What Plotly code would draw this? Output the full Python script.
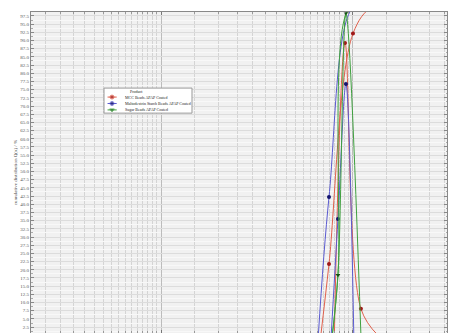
import numpy as np
import plotly.graph_objects as go

# Particle size (µm) against percentage, two curves per product
mcc_cum_size = [68, 75, 100, 125, 160]
mcc_cum_pct = [0.0, 21.8, 92.1, 100.0, 100.0]
mcc_dens_size = [80, 90.9, 110, 135]
mcc_dens_pct = [0.0, 89.2, 8.1, 0.0]

malto_cum_size = [66, 75, 100, 125]
malto_cum_pct = [0.0, 42.2, 100.0, 100.0]
malto_dens_size = [77, 83.5, 91.9, 101]
malto_dens_pct = [0.0, 35.5, 76.7, 0.0]

sugar_cum_size = [78, 83.5, 95, 115]
sugar_cum_pct = [0.0, 18.4, 99.5, 100.0]
sugar_dens_size = [78, 83.5, 91.9, 110]
sugar_dens_pct = [0.0, 18.4, 98.3, 0.0]

legend_title = "Product"
products = ["MCC Beads APAP Coated",
            "Maltodextrin Starch Beads APAP Coated",
            "Sugar Beads APAP Coated"]
line_colors = ["#e0604c", "#5a5ad0", "#3fa03f"]
marker_colors = ["#a01818", "#14146e", "#145214"]
marker_symbols = ["circle", "circle", "triangle-down"]

series = [
    (mcc_cum_size, mcc_cum_pct, mcc_dens_size, mcc_dens_pct),
    (malto_cum_size, malto_cum_pct, malto_dens_size, malto_dens_pct),
    (sugar_cum_size, sugar_cum_pct, sugar_dens_size, sugar_dens_pct),
]

# y tick labels every 2.5 %
y_ticks = [2.5 * k for k in range(1, 40)]
y_labels = [f"{v:.1f}" for v in y_ticks]

# log grid: decade lines plus half-step subdivisions
x_major = [10, 100]
x_minor = [float(m * d) for d in (1, 10, 100) for m in np.arange(1.5, 10.0, 0.5)]

font_family = "Liberation Serif"

fig = go.Figure()
for i, (cs, cp, ds, dp) in enumerate(series):
    for xs, ys in ((cs, cp), (ds, dp)):
        fig.add_trace(go.Scatter(
            x=xs, y=ys, mode="lines+markers",
            name=products[i], showlegend=False,
            line=dict(color=line_colors[i], width=1, shape="spline", smoothing=1.0),
            marker=dict(color=marker_colors[i], size=4, symbol=marker_symbols[i]),
        ))

# compact legend box drawn on an overlay axis spanning the plot area (0..1)
box_x0, box_x1, box_y0, box_y1 = 0.1755, 0.387, 0.685, 0.763
fig.add_trace(go.Scatter(
    x=[box_x0, box_x1, box_x1, box_x0, box_x0],
    y=[box_y0, box_y0, box_y1, box_y1, box_y0],
    xaxis="x2", yaxis="y2", mode="lines", fill="toself",
    fillcolor="white", line=dict(color="#9a9a9a", width=1),
    showlegend=False, hoverinfo="skip",
))
row_y = [0.735, 0.715, 0.695]
for i, name in enumerate(products):
    fig.add_trace(go.Scatter(
        x=[0.184, 0.1947, 0.206], y=[row_y[i]] * 3,
        xaxis="x2", yaxis="y2", mode="lines+markers",
        line=dict(color=line_colors[i], width=1),
        marker=dict(color=marker_colors[i], size=[0, 4, 0], symbol=marker_symbols[i]),
        showlegend=False, hoverinfo="skip",
    ))
    fig.add_annotation(
        x=0.221, y=row_y[i], xref="x2", yref="y2", text=name,
        showarrow=False, xanchor="left", yanchor="middle",
        font=dict(size=4, family=font_family, color="#222"),
    )
fig.add_annotation(
    x=0.233, y=0.752, xref="x2", yref="y2", text=legend_title,
    showarrow=False, xanchor="left", yanchor="middle",
    font=dict(size=4, family=font_family, color="#222"),
)

fig.update_layout(
    width=451, height=333,
    margin=dict(l=31, r=4, t=12, b=0),
    paper_bgcolor="white",
    plot_bgcolor="#f1f1f1",
    font=dict(family=font_family, size=5, color="#444"),
    showlegend=False,
    xaxis=dict(
        type="log", range=[np.log10(2.1), np.log10(309)],
        tickvals=x_major, showticklabels=False,
        ticks="inside", ticklen=3, tickcolor="#777",
        showgrid=True, gridcolor="#bcbcbc", gridwidth=1,
        minor=dict(tickvals=x_minor, showgrid=True, gridcolor="#d4d4d4",
                   ticks="inside", ticklen=2, tickcolor="#999"),
        showline=True, linecolor="#888", linewidth=1, mirror="ticks",
        zeroline=False,
    ),
    yaxis=dict(
        range=[0.7, 98.7],
        tickvals=y_ticks, ticktext=y_labels,
        tickfont=dict(size=5, family=font_family, color="#555"),
        ticks="inside", ticklen=3, tickcolor="#888",
        showgrid=True, gridcolor="#dcdcdc", gridwidth=1,
        minor=dict(dtick=1.25, showgrid=True, gridcolor="#f8f8f8",
                   ticks="inside", ticklen=1.5, tickcolor="#aaa"),
        showline=True, linecolor="#888", linewidth=1, mirror="ticks",
        zeroline=False,
        title=dict(text="cumulative distribution Q(x) / %",
                   font=dict(size=5, family=font_family, color="#444"),
                   standoff=2),
    ),
    xaxis2=dict(overlaying="x", range=[0, 1], visible=False, fixedrange=True),
    yaxis2=dict(overlaying="y", range=[0, 1], visible=False, fixedrange=True),
)

fig.write_html("out.html")
